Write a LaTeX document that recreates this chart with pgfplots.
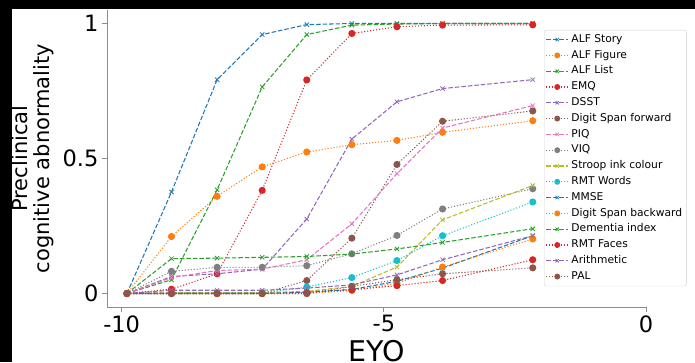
\documentclass[border=0pt]{standalone}
\usepackage{fontspec}
\setmainfont{DejaVu Sans}
\usepackage{pgfplots}
\usepackage{pgfplotstable}
\pgfplotsset{compat=1.18}
\definecolor{c0}{HTML}{1F77B4}
\definecolor{c1}{HTML}{FF7F0E}
\definecolor{c2}{HTML}{2CA02C}
\definecolor{c3}{HTML}{D62728}
\definecolor{c4}{HTML}{9467BD}
\definecolor{c5}{HTML}{8C564B}
\definecolor{c6}{HTML}{E377C2}
\definecolor{c7}{HTML}{7F7F7F}
\definecolor{c8}{HTML}{BCBD22}
\definecolor{c9}{HTML}{17BECF}
\definecolor{spine}{HTML}{8C8C8C}
\pgfplotstableread{
x     story figure list  emq   dsst  dsf   piq   viq   stroop rmtw  mmse  dsb   dem   rmtf  arith pal
-9.90 0     0      0     0     0     0     0     0     0      0     0     0     0     0     0     0
-9.05 0.376 0.211  0.051 0.016 0.063 0     0.059 0.082 0.003  0.002 0     0     0.129 0     0.012 0
-8.18 0.792 0.360  0.384 0.073 0.073 0     0.085 0.097 0.003  0.002 0     0     0.131 0     0.012 0
-7.32 0.959 0.469  0.765 0.382 0.090 0     0.090 0.097 0.003  0.002 0     0     0.134 0     0.012 0
-6.47 0.996 0.524  0.959 0.791 0.276 0.048 0.125 0.103 0.008  0.024 0.005 0     0.137 0.003 0.020 0
-5.61 1.000 0.551  0.994 0.963 0.572 0.205 0.258 0.147 0.026  0.059 0.015 0.011 0.146 0.014 0.032 0.026
-4.75 1.000 0.567  0.998 0.988 0.710 0.478 0.444 0.215 0.098  0.122 0.045 0.038 0.165 0.029 0.069 0.051
-3.88 1.000 0.597  1.000 0.994 0.759 0.638 0.613 0.313 0.273  0.214 0.094 0.098 0.189 0.048 0.125 0.073
-2.16 1.000 0.640  1.000 0.995 0.792 0.676 0.696 0.388 0.400  0.339 0.214 0.202 0.240 0.125 0.214 0.095
}\data
\begin{document}
\begin{tikzpicture}
\fill[black] (0pt,0pt) rectangle (695pt,362pt);
\fill[white] (12pt,0pt) rectangle (695pt,353pt);
\begin{axis}[
  at={(107pt,55pt)}, anchor=south west,
  width=539pt, height=297pt, scale only axis,
  xmin=-10.28, xmax=0, ymin=-0.05, ymax=1.05,
  axis x line*=bottom, axis y line*=left,
  axis line style={color=spine, line width=0.8pt},
  xtick={-10,-5,0}, xticklabels={-10,-5,0},
  ytick={0,0.5,1}, yticklabels={0,0.5,1},
  minor tick num=0,
  tick align=outside, major tick length=5pt,
  tick style={color=spine, line width=0.8pt},
  ticklabel style={font=\fontsize{22.5}{26}\selectfont},
  xlabel={EYO}, ylabel={Preclinical\\cognitive abnormality},
  every axis y label/.style={at={(axis description cs:-0.137,0.5)}, rotate=90, anchor=center, align=center, font=\fontsize{21}{22}\selectfont},
  every axis x label/.style={at={(axis description cs:0.5,0)}, anchor=north, yshift=-33pt, inner sep=0pt, font=\fontsize{28.5}{30}\selectfont},
  legend style={at={(axis description cs:0.8108,0.9327)}, anchor=north west, font=\fontsize{10.7}{12}\selectfont, draw=gray!35, rounded corners=2pt, fill=white, inner sep=1.5pt, nodes={text height=8pt, text depth=2.4pt, inner sep=2.7pt, anchor=west}},
  legend cell align=left,
  legend image code/.code={\draw[mark repeat=2,mark phase=2, mark size=2.4pt] plot coordinates {(0pt,0pt) (11pt,0pt) (22pt,0pt)};},
  dashx/.style={line width=1.05pt, dash pattern=on 4.5pt off 2pt, mark=x, mark size=3pt, mark options={solid, line width=0.8pt}},
  dotc/.style={line width=1.05pt, dash pattern=on 1.1pt off 1.9pt, mark=*, mark size=3pt, mark options={solid}},
]
\addplot[c0, dashx] table[x=x, y=story] {\data}; \addlegendentry{ALF Story}
\addplot[c1, dotc] table[x=x, y=figure] {\data}; \addlegendentry{ALF Figure}
\addplot[c2, dashx] table[x=x, y=list] {\data}; \addlegendentry{ALF List}
\addplot[c3, dotc] table[x=x, y=emq] {\data}; \addlegendentry{EMQ}
\addplot[c4, dashx] table[x=x, y=dsst] {\data}; \addlegendentry{DSST}
\addplot[c5, dotc] table[x=x, y=dsf] {\data}; \addlegendentry{Digit Span forward}
\addplot[c6, dashx] table[x=x, y=piq] {\data}; \addlegendentry{PIQ}
\addplot[c7, dotc] table[x=x, y=viq] {\data}; \addlegendentry{VIQ}
\addplot[c8, dashx] table[x=x, y=stroop] {\data}; \addlegendentry{Stroop ink colour}
\addplot[c9, dotc] table[x=x, y=rmtw] {\data}; \addlegendentry{RMT Words}
\addplot[c0, dashx] table[x=x, y=mmse] {\data}; \addlegendentry{MMSE}
\addplot[c1, dotc] table[x=x, y=dsb] {\data}; \addlegendentry{Digit Span backward}
\addplot[c2, dashx] table[x=x, y=dem] {\data}; \addlegendentry{Dementia index}
\addplot[c3, dotc] table[x=x, y=rmtf] {\data}; \addlegendentry{RMT Faces}
\addplot[c4, dashx] table[x=x, y=arith] {\data}; \addlegendentry{Arithmetic}
\addplot[c5, dotc] table[x=x, y=pal] {\data}; \addlegendentry{PAL}
\end{axis}
\pgfresetboundingbox
\path[use as bounding box] (0pt,0pt) rectangle (695pt,362pt);
\end{tikzpicture}
\end{document}
